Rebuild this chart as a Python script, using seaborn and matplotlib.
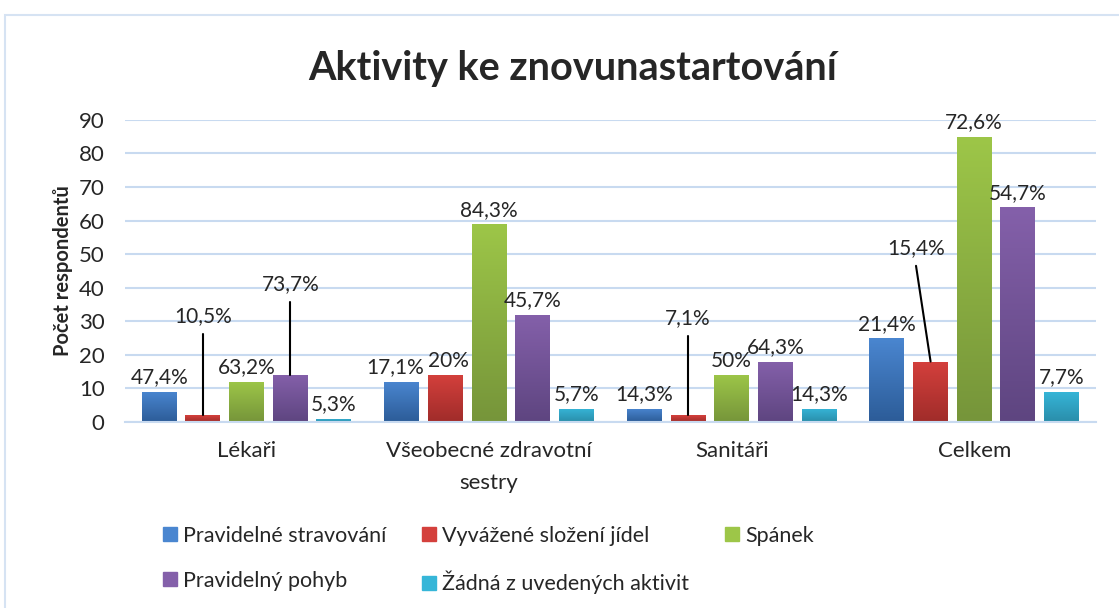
import numpy as np
import pandas as pd
import matplotlib.pyplot as plt
import matplotlib.colors as mcolors
from matplotlib.patches import Rectangle
from matplotlib.lines import Line2D
import seaborn as sns

# Data
groups = ['Lékaři', 'Všeobecné zdravotní\nsestry', 'Sanitáři', 'Celkem']
activities = ['Pravidelné stravování', 'Vyvážené složení jídel', 'Spánek',
              'Pravidelný pohyb', 'Žádná z uvedených aktivit']
lekari = [9, 2, 12, 14, 1]
sestry = [12, 14, 59, 32, 4]
sanitari = [4, 2, 14, 18, 4]
celkem = [25, 18, 85, 64, 9]
pct_lekari = ['47,4%', '10,5%', '63,2%', '73,7%', '5,3%']
pct_sestry = ['17,1%', '20%', '84,3%', '45,7%', '5,7%']
pct_sanitari = ['14,3%', '7,1%', '50%', '64,3%', '14,3%']
pct_celkem = ['21,4%', '15,4%', '72,6%', '54,7%', '7,7%']

# Styling
top_colors = ['#4A86D0', '#D4403C', '#9DC648', '#8460AA', '#36B6D8']
bottom_colors = ['#2C5C98', '#A02C2A', '#76953A', '#5E4580', '#2A8DAA']
grid_color = '#C8DAF0'
# label overrides with leader lines: (group, series) -> (x shift, text y)
leader_labels = {(0, 1): (0.0, 31.5), (0, 3): (0.0, 41.0),
                 (2, 1): (0.0, 31.0), (3, 1): (-0.06, 51.8)}
# small sideways nudges of plain labels, in points
label_nudge = {(1, 0): -5, (1, 1): 2}

sns.set_style('white')
plt.rcParams['font.family'] = ['Lato', 'DejaVu Sans']

counts = [lekari, sestry, sanitari, celkem]
pcts = [pct_lekari, pct_sestry, pct_sanitari, pct_celkem]
df = pd.DataFrame({
    'group': [g for g in groups for _ in activities],
    'activity': activities * len(groups),
    'count': [v for row in counts for v in row],
})

fig = plt.figure(figsize=(11.19, 6.08), dpi=100)
ax = fig.add_axes([0.112, 0.306, 0.867, 0.497])

sns.barplot(data=df, x='group', y='count', hue='activity', order=groups,
            hue_order=activities, palette=top_colors, width=0.9, gap=0.2,
            ax=ax, legend=False, edgecolor='none', saturation=1)

ax.set_ylim(0, 90)
ax.set_xlim(-0.5, 3.5)
ax.set_yticks(range(0, 91, 10))
ax.yaxis.grid(True, color=grid_color, linewidth=1.5)
ax.set_axisbelow(True)
for s in ['top', 'right', 'left']:
    ax.spines[s].set_visible(False)
ax.spines['bottom'].set_color(grid_color)
ax.spines['bottom'].set_linewidth(1.5)
ax.xaxis.set_tick_params(length=0, labelsize=16, pad=14)
ax.yaxis.set_tick_params(length=0, labelsize=16, pad=15)
for t in ax.get_xticklabels():
    t.set_linespacing(1.7)
ax.set_xlabel('')
ax.set_ylabel('Počet respondentů', fontsize=14.5, fontweight='bold', labelpad=4)

# gradient fill + labels
for si, cont in enumerate(ax.containers):
    cmap = mcolors.LinearSegmentedColormap.from_list(
        'g%d' % si, [bottom_colors[si], top_colors[si]])
    for gi, bar in enumerate(cont):
        x0, w, h = bar.get_x(), bar.get_width(), bar.get_height()
        grad = np.linspace(0, 1, 100).reshape(-1, 1)
        im = ax.imshow(grad, cmap=cmap, origin='lower', aspect='auto',
                       extent=[x0, x0 + w, 0, h], zorder=bar.get_zorder() + 0.1)
        im.set_clip_path(bar)
        xc = x0 + w / 2
        key = (gi, si)
        if key in leader_labels:
            dx, ty = leader_labels[key]
            ax.text(xc + dx, ty, pcts[gi][si], ha='center', va='center', fontsize=15)
            ax.plot([xc + dx, xc], [ty - 5.3, h], color='black', linewidth=1.5, zorder=5)
        else:
            ax.annotate(pcts[gi][si], xy=(xc, h), xytext=(label_nudge.get(key, 0), 3),
                        textcoords='offset points', ha='center', va='bottom',
                        fontsize=15)

ax.set_xlim(-0.5, 3.5)
ax.set_ylim(0, 90)

fig.suptitle('Aktivity ke znovunastartování', x=0.512, y=0.918,
             fontsize=28.5, fontweight='bold')

# legend in row order (matplotlib fills columns first)
handles = [Line2D([], [], marker='s', linestyle='none', markersize=10,
                  markerfacecolor=c, markeredgecolor=c) for c in top_colors]
order = [0, 3, 1, 4, 2]
fig.legend([handles[i] for i in order], [activities[i] for i in order],
           loc='upper left', bbox_to_anchor=(0.125, 0.167), ncol=3,
           frameon=False, fontsize=15.5, handletextpad=0.1,
           columnspacing=1.5, labelspacing=1.15, handlelength=1.0)

# chart border
fig.patches.append(Rectangle((5 / 1119, -0.05), 1.1, 1 - 15 / 608 + 0.05,
                             transform=fig.transFigure, fill=False,
                             edgecolor='#D6E3F3', linewidth=1.5))

fig.savefig('out.png', dpi=100)
